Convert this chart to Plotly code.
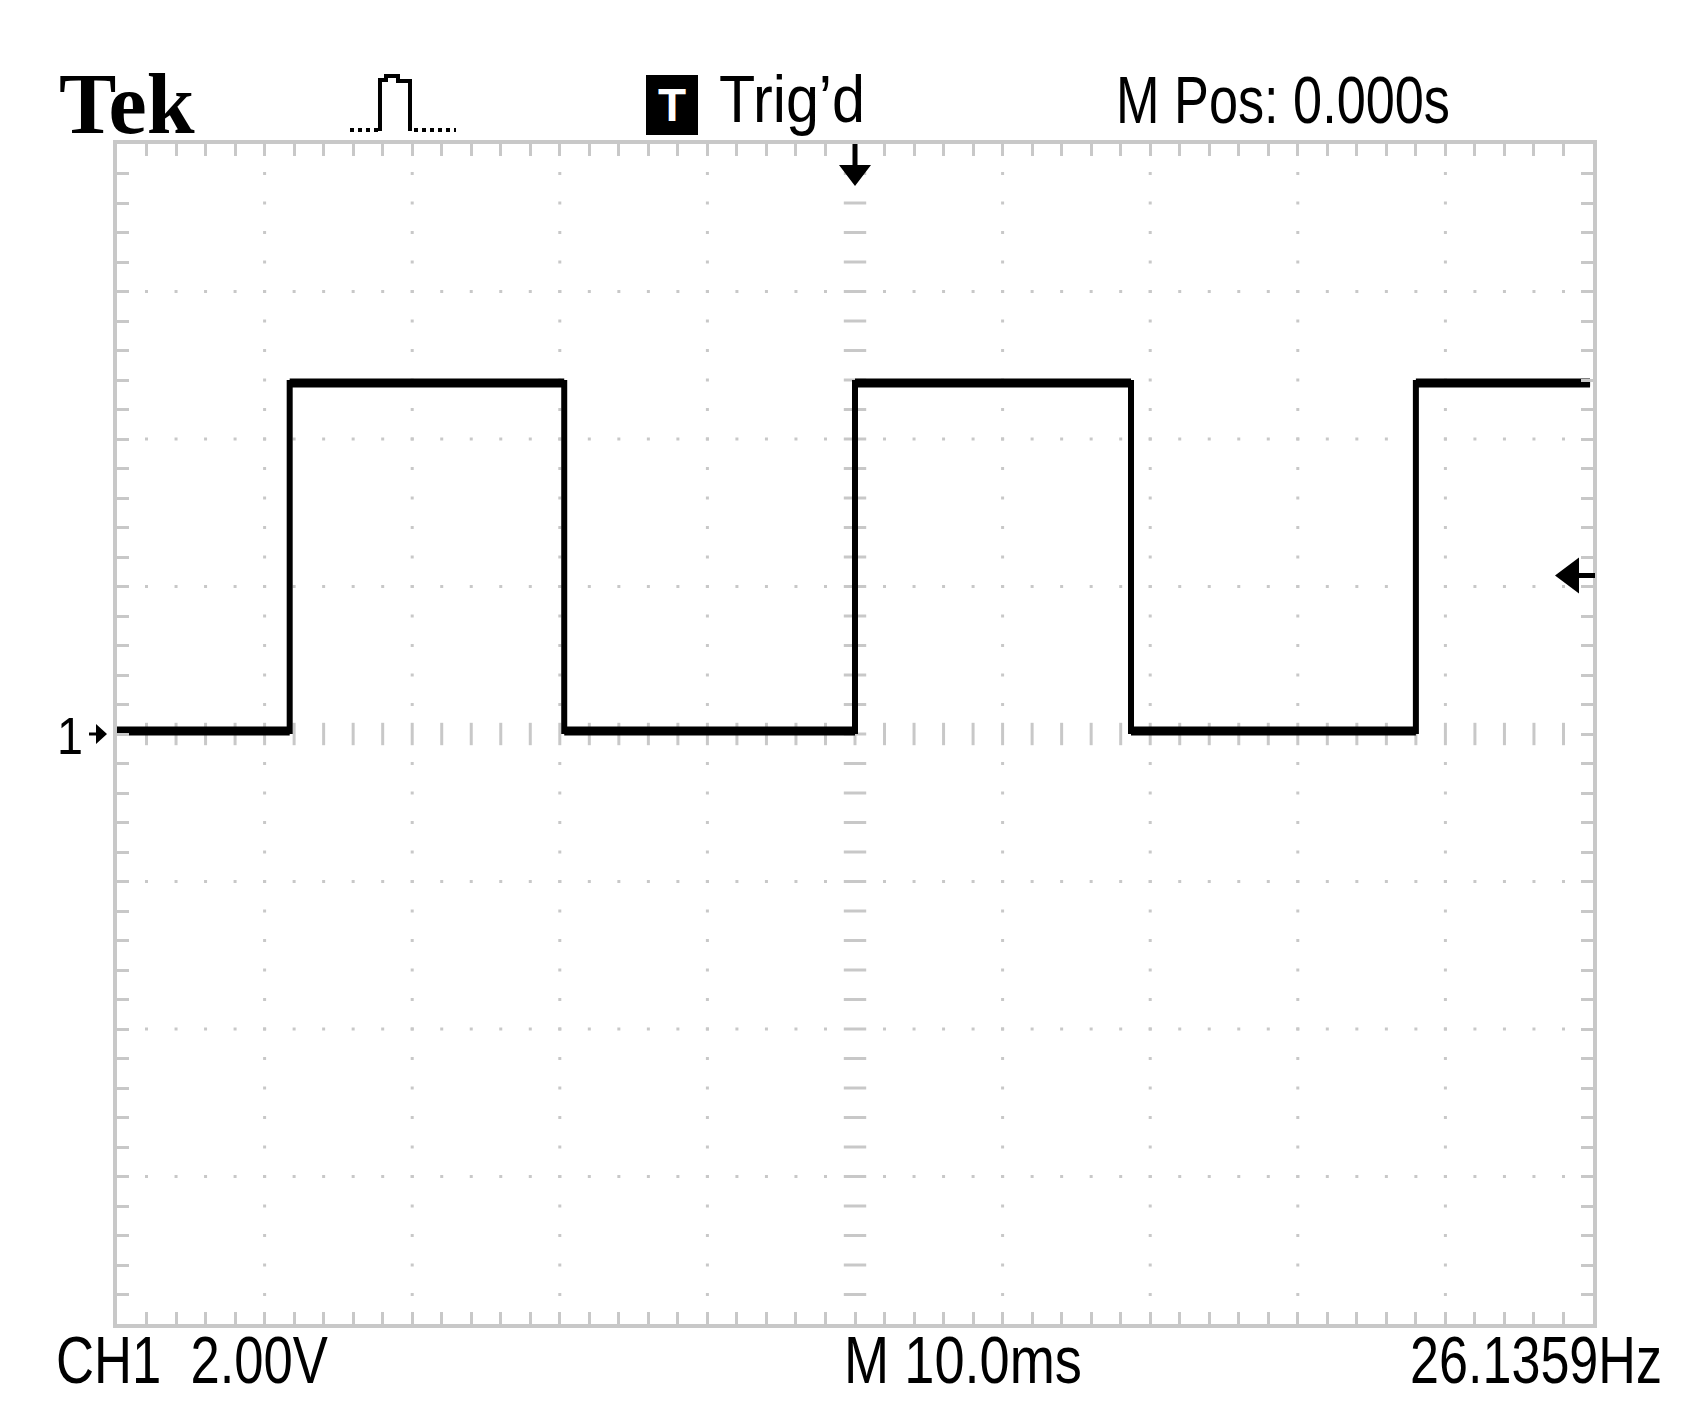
import numpy as np
import plotly.graph_objects as go

edge_times_ms = [-38.3, -19.7, 0.0, 18.7, 38.0]   # rising, falling, rising, falling, rising
trace_start_ms = -50.0
trace_end_ms = 49.8
low_level_v = 0.04
high_level_v = 4.76
trigger_level_v = 2.15
trigger_pos_ms = 0.0
ground_level_v = 0.0
ms_per_div = 10.0
volts_per_div = 2.0
h_divs = 10
v_divs = 8

label_brand = "Tek"
label_trig = "Trig’d"
label_mpos = "M Pos: 0.000s"
label_ch = "CH1  2.00V"
label_time = "M 10.0ms"
label_freq = "26.1359Hz"
label_ground = "1"

# ---------------- layout geometry (window pixels; page body has an 8px margin) ----------------
BODY = 8
W, H = 1689 - 2 * BODY, 1426 - 2 * BODY
ML, MT = 109, 136
PW, PH = 1476, 1180
MR, MB = W - ML - PW, H - MT - PH
GRAY = "#c8c8c8"
FONT = "Liberation Sans, Arial, sans-serif"


def px(xw):
    return (xw - BODY - ML) / PW


def py(yw):
    return (H - MB - (yw - BODY)) / PH


x_half = h_divs / 2 * ms_per_div
y_half = v_divs / 2 * volts_per_div
x_minor = ms_per_div / 5
y_minor = volts_per_div / 5

fig = go.Figure()

# ---------------- graticule ----------------
xs_minor = np.arange(-x_half + x_minor, x_half - 1e-9, x_minor)
ys_minor = np.arange(-y_half + y_minor, y_half - 1e-9, y_minor)
x_major = [v for v in np.arange(-x_half + ms_per_div, x_half - 1e-9, ms_per_div) if abs(v) > 1e-9]
y_major = [v for v in np.arange(-y_half + volts_per_div, y_half - 1e-9, volts_per_div) if abs(v) > 1e-9]

dot_x, dot_y = [], []
for xv in x_major:
    for yv in ys_minor:
        if abs(yv) > 1e-9:
            dot_x.append(xv); dot_y.append(yv)
for yv in y_major:
    for xv in xs_minor:
        if abs(xv) > 1e-9:
            dot_x.append(xv); dot_y.append(yv)
fig.add_trace(go.Scatter(x=dot_x, y=dot_y, mode="markers",
                         marker=dict(symbol="square", size=3, color=GRAY, line=dict(width=0)),
                         hoverinfo="skip", showlegend=False))
# centre cross tick marks
fig.add_trace(go.Scatter(x=[0.0] * len(ys_minor), y=ys_minor, mode="markers",
                         marker=dict(symbol="line-ew", size=16, line=dict(width=3, color=GRAY)),
                         hoverinfo="skip", showlegend=False))
fig.add_trace(go.Scatter(x=xs_minor, y=[0.0] * len(xs_minor), mode="markers",
                         marker=dict(symbol="line-ns", size=16, line=dict(width=3, color=GRAY)),
                         hoverinfo="skip", showlegend=False))

# ---------------- waveform ----------------
wave_x = [trace_start_ms] + edge_times_ms + [trace_end_ms]
wave_y = [low_level_v]
lvl = low_level_v
for _ in edge_times_ms:
    lvl = high_level_v if lvl == low_level_v else low_level_v
    wave_y.append(lvl)
wave_y.append(lvl)

# thicker (noisy) flat parts of the trace
band_x, band_y = [], []
for i in range(len(wave_x) - 1):
    band_x += [wave_x[i], wave_x[i + 1], None]
    band_y += [wave_y[i], wave_y[i], None]
fig.add_trace(go.Scatter(x=band_x, y=band_y, mode="lines",
                         line=dict(color="black", width=9), hoverinfo="skip", showlegend=False))
fig.add_trace(go.Scatter(x=wave_x, y=wave_y, mode="lines", line_shape="hv",
                         line=dict(color="black", width=6), hoverinfo="skip", showlegend=False))

# ---------------- axes ----------------
common = dict(showgrid=False, zeroline=False, showticklabels=False, showline=True,
              linecolor=GRAY, linewidth=4, mirror="ticks", ticks="inside",
              ticklen=12, tickwidth=3, tickcolor=GRAY, fixedrange=True)
fig.update_xaxes(range=[-x_half, x_half], tick0=0, dtick=x_minor, **common)
fig.update_yaxes(range=[-y_half, y_half], tick0=0, dtick=y_minor, **common)

shapes = []
# trigger position arrow (top)
shapes.append(dict(type="path", xref="x", xsizemode="pixel", xanchor=trigger_pos_ms,
                   yref="paper", ysizemode="pixel", yanchor=1,
                   path="M -2.5 0 L 2.5 0 L 2.5 -21 L 16 -21 L 0 -42 L -16 -21 L -2.5 -21 Z",
                   fillcolor="black", line=dict(width=0)))
# trigger level arrow (right)
shapes.append(dict(type="path", xref="paper", xsizemode="pixel", xanchor=1,
                   yref="y", ysizemode="pixel", yanchor=trigger_level_v,
                   path="M 2 2.5 L -14 2.5 L -14 18 L -38 0 L -14 -18 L -14 -2.5 L 2 -2.5 Z",
                   fillcolor="black", line=dict(width=0)))
# channel ground marker arrow (left)
shapes.append(dict(type="path", xref="paper", xsizemode="pixel", xanchor=0,
                   yref="y", ysizemode="pixel", yanchor=ground_level_v,
                   path="M -28 1.5 L -21 1.5 L -21 10 L -10 0 L -21 -10 L -21 -1.5 L -28 -1.5 Z",
                   fillcolor="black", line=dict(width=0)))
# T box
shapes.append(dict(type="rect", xref="paper", yref="paper",
                   x0=px(646), x1=px(698), y0=py(135), y1=py(75),
                   fillcolor="black", line=dict(width=0)))


# acquisition icon (pulse)
def pth(pts):
    return "M " + " L ".join(f"{px(a):.5f} {py(b):.5f}" for a, b in pts)


shapes.append(dict(type="path", xref="paper", yref="paper",
                   path=pth([(350, 130), (379, 130)]),
                   line=dict(color="black", width=4, dash="dot")))
shapes.append(dict(type="path", xref="paper", yref="paper",
                   path=pth([(380, 131), (380, 80), (386, 80), (386, 76), (398, 76),
                             (398, 81), (410, 81), (410, 131)]),
                   line=dict(color="black", width=4)))
shapes.append(dict(type="path", xref="paper", yref="paper",
                   path=pth([(414, 130), (456, 130)]),
                   line=dict(color="black", width=4, dash="dot")))

annotations = []
squeeze = {}   # annotation index -> target width (px) of the narrow instrument font


def add_text(text, x, y, size, family=FONT, color="black", xanchor="left", bold=False, width=None):
    if width is not None:
        squeeze[str(len(annotations))] = width
    annotations.append(dict(text=f"<b>{text}</b>" if bold else text, xref="paper", yref="paper",
                            x=px(x), y=py(y), xanchor=xanchor, yanchor="middle",
                            showarrow=False, font=dict(family=family, size=size, color=color)))


add_text(label_brand, 57, 103.5, 86, family="Liberation Serif, DejaVu Serif, serif", bold=True)
add_text("T", 672, 105, 46, color="white", xanchor="center", bold=True)
add_text(label_trig, 717, 99, 66, width=146)
add_text(label_mpos, 1114, 100, 66, width=334)
add_text(label_ch, 54, 1360, 66, width=272)
add_text(label_time, 842, 1360, 66, width=238)
add_text(label_freq, 1408, 1360, 66, width=252)
add_text(label_ground, 55, 736, 52, width=26)

fig.update_layout(width=W, height=H, margin=dict(l=ML, r=MR, t=MT, b=MB, pad=0),
                  paper_bgcolor="white", plot_bgcolor="white", showlegend=False,
                  shapes=shapes, annotations=annotations)

squeeze_js = "{" + ",".join(f'"{k}":{v}' for k, v in squeeze.items()) + "}"
post_js = """
var gd = document.getElementById('{plot_id}');
var targets = %s;
function squeezeText() {
  gd.querySelectorAll('g.annotation').forEach(function (g) {
    var k = g.getAttribute('data-index');
    if (!(k in targets)) return;
    var t = g.querySelector('text.annotation-text');
    if (!t) return;
    t.style.transform = 'none';
    var w = t.getBBox().width;
    if (!w) return;
    var s = Math.min(1, targets[k] / w);
    t.style.transformBox = 'fill-box';
    t.style.transformOrigin = 'left center';
    t.style.transform = 'scaleX(' + s.toFixed(4) + ')';
  });
}
squeezeText();
gd.on('plotly_afterplot', squeezeText);
""" % squeeze_js

fig.write_html("out.html", config={"displayModeBar": False}, post_script=post_js)
